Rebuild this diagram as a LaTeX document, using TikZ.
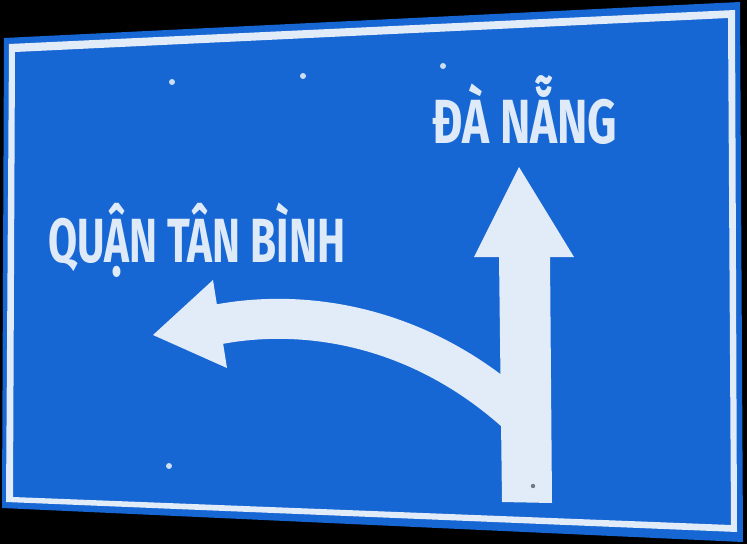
\documentclass[tikz,border=0pt]{standalone}
\usepackage{fontspec}
\setmainfont{Fira Sans}
\usepackage{graphicx}
\definecolor{signblue}{RGB}{22,102,212}
\definecolor{signwhite}{RGB}{226,236,248}
\definecolor{textwhite}{RGB}{222,234,248}
\definecolor{boltgray}{RGB}{110,120,135}
\begin{document}
\begin{tikzpicture}[x=1pt,y=-1pt,
  signtext/.style={anchor=base west, inner sep=0pt, text=textwhite,
    font=\bfseries\fontsize{62.4}{70}\selectfont},
  arrowpart/.style={fill=signwhite},
  boltdot/.style={fill=signwhite!90!signblue}]
\useasboundingbox (0,0) rectangle (747,544);
\fill[black] (0,0) rectangle (747,544);
% sign plate
\fill[signblue] (4,38) -- (740,2) -- (743,542) -- (2,508) -- cycle;
% white border
\fill[signwhite, even odd rule]
  (9,44) -- (735,10) -- (737,532) -- (6,502) -- cycle
  (15,52) -- (728,18) -- (731,525) -- (13,497) -- cycle;
% bolts
\fill[boltdot] (172,82) circle (3);
\fill[boltdot] (303,76) circle (3);
\fill[boltdot] (443,66) circle (3);
\fill[boltdot] (169,466) circle (3);
% curved left arrow band
\draw[signwhite, line width=40pt] (215,325) .. controls (300,308) and (420,322) .. (524,420);
% left arrow head
\fill[arrowpart] (153,335) -- (213,280) -- (227,368) -- cycle;
% straight arrow stem and head
\fill[arrowpart] (499,256) -- (550,256) -- (552,503) -- (502,502) -- cycle;
\fill[arrowpart] (519,167) -- (574,257) -- (474,257) -- cycle;
\fill[boltgray] (533,486) circle (2.2);
% texts
\node[signtext] (danang) at (432,143) {\resizebox{185pt}{\height}{ĐÀ NẴNG}};
\node[signtext] (tanbinh) at (48,262) {\resizebox{297pt}{\height}{QUẬN TÂN BÌNH}};
\end{tikzpicture}
\end{document}
